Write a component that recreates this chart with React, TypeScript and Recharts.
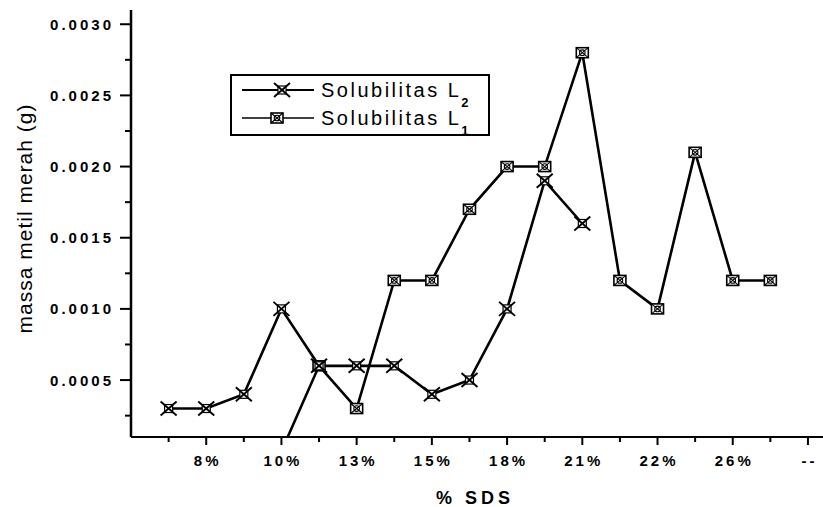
import { LineChart, Line, XAxis, YAxis, Legend, Label } from 'recharts';

const FONT = '"Liberation Sans", Arial, Helvetica, sans-serif';

// x positions: one per measurement, only every other one carries a label
const X_LABELS = ['', '8%', '', '10%', '', '13%', '', '15%', '', '18%', '', '21%', '', '22%', '', '26%', '', '--'];
const L2_VALUES = [0.0003, 0.0003, 0.0004, 0.001, 0.0006, 0.0006, 0.0006, 0.0004, 0.0005, 0.001, 0.0019, 0.0016, null, null, null, null, null, null];
const L1_VALUES = [null, null, null, 0, 0.0006, 0.0003, 0.0012, 0.0012, 0.0017, 0.002, 0.002, 0.0028, 0.0012, 0.001, 0.0021, 0.0012, 0.0012, null];

const Y_TICKS = [0.00025, 0.0005, 0.00075, 0.001, 0.00125, 0.0015, 0.00175, 0.002, 0.00225, 0.0025, 0.00275, 0.003];
const Y_LABELS = ['', '0.0005', '', '0.0010', '', '0.0015', '', '0.0020', '', '0.0025', '', '0.0030'];

const data = X_LABELS.map((label, i) => ({ i, label, l2: L2_VALUES[i], l1: L1_VALUES[i] }));
const xTicks = X_LABELS.map((_, i) => i);

function L1Mark({ cx, cy }: { cx: number; cy: number }) {
  return (
    <g>
      <rect x={cx - 6} y={cy - 5} width={12} height={10} fill="#fff" stroke="#000" strokeWidth={1.6} />
      <line x1={cx - 6} y1={cy - 5} x2={cx + 6} y2={cy + 5} stroke="#000" strokeWidth={1.1} />
      <line x1={cx - 6} y1={cy + 5} x2={cx + 6} y2={cy - 5} stroke="#000" strokeWidth={1.1} />
      <circle cx={cx} cy={cy} r={2.8} fill="none" stroke="#000" strokeWidth={1.1} />
    </g>
  );
}

function L2Mark({ cx, cy }: { cx: number; cy: number }) {
  return (
    <g>
      <rect x={cx - 4} y={cy - 4} width={8} height={8} fill="#fff" stroke="#000" strokeWidth={1.2} />
      <line x1={cx - 8} y1={cy - 7} x2={cx + 8} y2={cy + 7} stroke="#000" strokeWidth={1.9} />
      <line x1={cx - 8} y1={cy + 7} x2={cx + 8} y2={cy - 7} stroke="#000" strokeWidth={1.9} />
    </g>
  );
}

const renderDot = (Mark: typeof L1Mark) => (props: any) => {
  const { cx, cy, index, value } = props;
  if (cy == null || value == null || Number.isNaN(cy)) return <g key={`d-${index}`} />;
  return (
    <g key={`d-${index}`}>
      <Mark cx={cx} cy={cy} />
    </g>
  );
};

function XTick(props: any) {
  const { x, y, payload } = props;
  const text = X_LABELS[payload.value] ?? '';
  return (
    <g>
      <line x1={x} y1={y} x2={x} y2={y + (text ? 8 : 5)} stroke="#000" strokeWidth={2} />
      {text && (
        <text x={x + 1.5} y={y + 29} textAnchor="middle" fontFamily={FONT} fontSize={15} fontWeight="bold" letterSpacing={3} fill="#000">
          {text}
        </text>
      )}
    </g>
  );
}

function YTick(props: any) {
  const { x, y, index } = props;
  const text = Y_LABELS[index] ?? '';
  return (
    <g>
      <line x1={x - (text ? 11 : 6)} y1={y} x2={x} y2={y} stroke="#000" strokeWidth={2} />
      {text && (
        <text x={x - 17} y={y + 5.5} textAnchor="end" fontFamily={FONT} fontSize={15} fontWeight="bold" letterSpacing={3} fill="#000">
          {text}
        </text>
      )}
    </g>
  );
}

function LegendRow({ name, sub, Mark, markX, thick }: { name: string; sub: string; Mark: typeof L1Mark; markX: number; thick: number }) {
  return (
    <div style={{ height: 28, display: 'flex', alignItems: 'center', position: 'relative' }}>
      <svg width={78} height={28} style={{ position: 'absolute', left: 8, top: 0 }}>
        <line x1={2} y1={14} x2={74} y2={14} stroke="#000" strokeWidth={thick} />
        <Mark cx={markX} cy={14} />
      </svg>
      <span style={{ position: 'absolute', left: 89, top: 4, fontSize: 20, lineHeight: '20px', letterSpacing: 2.5, whiteSpace: 'nowrap' }}>
        {name}
        <span style={{ fontSize: 13, position: 'relative', top: 10, letterSpacing: 0, fontWeight: 'bold' }}>{sub}</span>
      </span>
    </div>
  );
}

function LegendBox() {
  return (
    <div style={{ width: 256, height: 58, border: '2px solid #000', background: '#fff', fontFamily: FONT, color: '#000' }}>
      <LegendRow name="Solubilitas L" sub="2" Mark={L2Mark} markX={42} thick={2.2} />
      <LegendRow name="Solubilitas L" sub="1" Mark={L1Mark} markX={37} thick={1.6} />
    </div>
  );
}

export default function App() {
  return (
    <div style={{ position: 'absolute', left: 0, top: 0, width: 823, height: 507, background: '#fff' }}>
      <LineChart width={823} height={507} data={data} margin={{ top: 10, right: 0, bottom: 0, left: 0 }}>
        <XAxis
          type="number"
          dataKey="i"
          domain={[-1, 17.4]}
          ticks={xTicks}
          interval={0}
          tickSize={0}
          tickMargin={0}
          tickLine={false}
          axisLine={{ stroke: '#000', strokeWidth: 2 }}
          tick={<XTick />}
          height={70}
          allowDataOverflow
        >
          <Label
            content={({ viewBox }: any) => (
              <text x={viewBox.x + viewBox.width / 2 - 2} y={504} textAnchor="middle" fontFamily={FONT} fontSize={18} fontWeight="bold" letterSpacing={4} fill="#000">
                % SDS
              </text>
            )}
          />
        </XAxis>
        <YAxis
          type="number"
          domain={[0.0001, 0.0031]}
          ticks={Y_TICKS}
          interval={0}
          tickSize={0}
          tickMargin={0}
          tickLine={false}
          axisLine={{ stroke: '#000', strokeWidth: 2.5 }}
          tick={<YTick />}
          width={131}
          allowDataOverflow
        >
          <Label
            content={({ viewBox }: any) => {
              const cy = viewBox.y + viewBox.height / 2 - 5;
              return (
                <text x={32} y={cy} transform={`rotate(-90, 32, ${cy})`} textAnchor="middle" fontFamily={FONT} fontSize={21} letterSpacing={1} fill="#000">
                  massa metil merah (g)
                </text>
              );
            }}
          />
        </YAxis>
        <Legend
          layout="horizontal"
          verticalAlign="middle"
          align="center"
          wrapperStyle={{ left: 230, top: 74, width: 260, height: 62 }}
          content={() => <LegendBox />}
        />
        <Line
          dataKey="l1"
          name="Solubilitas L1"
          stroke="#000"
          strokeWidth={2.6}
          dot={renderDot(L1Mark)}
          activeDot={false}
          isAnimationActive={false}
        />
        <Line
          dataKey="l2"
          name="Solubilitas L2"
          stroke="#000"
          strokeWidth={2.6}
          dot={renderDot(L2Mark)}
          activeDot={false}
          isAnimationActive={false}
        />
      </LineChart>
    </div>
  );
}
